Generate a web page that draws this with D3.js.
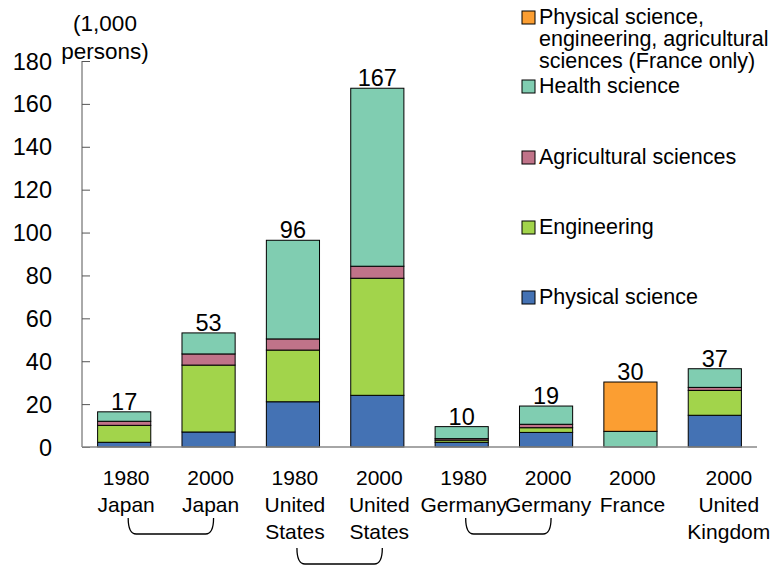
<!DOCTYPE html>
<html>
<head>
<meta charset="utf-8">
<script src="https://cdn.jsdelivr.net/npm/d3@7"></script>
<style>
body { margin: 0; background: #fff; }
text { font-family: "Liberation Sans", Arial, sans-serif; fill: #000; }
</style>
</head>
<body>
<svg width="773" height="565"></svg>
<script>
var svg = d3.select("svg");

// data (1,000 persons)
var categories = ["1980|Japan", "2000|Japan", "1980|United|States", "2000|United|States",
	"1980|Germany", "2000|Germany", "2000|France", "2000|United|Kingdom"];
var physical     = [2.2, 7.0, 21.1, 24.1, 2.2, 6.8, 0, 14.8];
var engineering  = [7.9, 31.2, 24.1, 54.6, 1.0, 2.2, 0, 11.6];
var agricultural = [1.9, 5.2, 5.2, 5.6, 0.7, 1.6, 0, 1.4];
var health       = [4.4, 9.8, 46.0, 83.0, 5.6, 8.5, 7.3, 8.7];
var franceOnly   = [0, 0, 0, 0, 0, 0, 23.0, 0];
var totals       = [17, 53, 96, 167, 10, 19, 30, 37];
var yTicks = [0, 20, 40, 60, 80, 100, 120, 140, 160, 180];

var series = [
	{key: "physical", name: ["Physical science"], values: physical, color: "#4472b4"},
	{key: "engineering", name: ["Engineering"], values: engineering, color: "#a2d44b"},
	{key: "agricultural", name: ["Agricultural sciences"], values: agricultural, color: "#c07389"},
	{key: "health", name: ["Health science"], values: health, color: "#80cdb1"},
	{key: "france", name: ["Physical science,", "engineering, agricultural", "sciences (France only)"], values: franceOnly, color: "#fb9e32"}
];

var table = categories.map(function(c, i) {
	var row = {cat: c};
	series.forEach(function(s) { row[s.key] = s.values[i]; });
	return row;
});

var x = d3.scaleBand()
	.domain(categories)
	.range([82, 757])
	.paddingInner(0.37)
	.paddingOuter(0.185);

var y = d3.scaleLinear()
	.domain([0, 180])
	.range([447, 61]);

var stack = d3.stack().keys(series.map(function(s) { return s.key; }));
var layers = stack(table);

// bars
svg.append("g")
	.selectAll("g")
	.data(layers)
	.enter().append("g")
	.attr("fill", function(d, i) { return series[i].color; })
	.selectAll("rect")
	.data(function(d) { return d.filter(function(p) { return p[1] - p[0] > 0; }); })
	.enter().append("rect")
	.attr("x", function(d) { return x(d.data.cat); })
	.attr("width", x.bandwidth())
	.attr("y", function(d) { return y(d[1]); })
	.attr("height", function(d) { return y(d[0]) - y(d[1]); })
	.attr("stroke", "#000")
	.attr("stroke-width", 1);

// y axis
var yAxis = svg.append("g")
	.attr("transform", "translate(82,0)")
	.call(d3.axisRight(y).tickValues(yTicks).tickSize(8).tickFormat(""));
yAxis.select(".domain").attr("stroke", "#555").attr("d", "M0," + y(180) + "V" + y(0));
yAxis.selectAll(".tick line").attr("stroke", "#555");

svg.append("g")
	.selectAll("text")
	.data(yTicks)
	.enter().append("text")
	.attr("x", 52)
	.attr("y", function(d) { return y(d) + 8.5; })
	.attr("text-anchor", "end")
	.style("font-size", "23.5px")
	.text(function(d) { return d; });

// x axis line
svg.append("line")
	.attr("x1", 82).attr("x2", 757)
	.attr("y1", y(0)).attr("y2", y(0))
	.attr("stroke", "#888")
	.attr("stroke-width", 1.5);

// axis title
svg.append("text")
	.attr("x", 105).attr("y", 31)
	.attr("text-anchor", "middle")
	.style("font-size", "22.5px")
	.text("(1,000");
svg.append("text")
	.attr("x", 105).attr("y", 59)
	.attr("text-anchor", "middle")
	.style("font-size", "22.5px")
	.text("persons)");

// totals above bars
svg.append("g")
	.selectAll("text")
	.data(categories)
	.enter().append("text")
	.attr("x", function(d) { return x(d) + x.bandwidth() / 2; })
	.attr("y", function(d, i) { return y(d3.sum(series, function(s) { return s.values[i]; })) - 2; })
	.attr("text-anchor", "middle")
	.style("font-size", "23.5px")
	.text(function(d, i) { return totals[i]; });

// category labels (last one sits a bit to the right, as in the original)
var catLabel = svg.append("g")
	.selectAll("text")
	.data(categories)
	.enter().append("text")
	.attr("text-anchor", "middle")
	.style("font-size", "21px");
catLabel.selectAll("tspan")
	.data(function(d, j) { return d.split("|").map(function(t) { return {t: t, c: d, j: j}; }); })
	.enter().append("tspan")
	.attr("x", function(d) { return x(d.c) + x.bandwidth() / 2 + (d.j === categories.length - 1 ? 14 : 2); })
	.attr("y", function(d, i) { return 485 + i * 27; })
	.text(function(d) { return d.t; });

// brackets pairing 1980 / 2000
var pairs = [[0, 1, 518], [2, 3, 548], [4, 5, 518]];
svg.append("g")
	.selectAll("path")
	.data(pairs)
	.enter().append("path")
	.attr("fill", "none")
	.attr("stroke", "#000")
	.attr("stroke-width", 1.3)
	.attr("d", function(p) {
		var x0 = x(categories[p[0]]) + x.bandwidth() / 2 + 4,
			x1 = x(categories[p[1]]) + x.bandwidth() / 2 + 5,
			yt = p[2], yb = p[2] + 16,
			path = d3.path();
		path.moveTo(x0, yt);
		path.quadraticCurveTo(x0, yb, x0 + 8, yb);
		path.lineTo(x1 - 8, yb);
		path.quadraticCurveTo(x1, yb, x1, yt);
		return path.toString();
	});

// legend
var legendY = [17, 86, 157, 227, 297];
var legend = svg.append("g")
	.selectAll("g")
	.data(series.slice().reverse())
	.enter().append("g")
	.attr("transform", function(d, i) { return "translate(522," + legendY[i] + ")"; });
legend.append("rect")
	.attr("x", 0).attr("y", -6)
	.attr("width", 13).attr("height", 13)
	.attr("fill", function(d) { return d.color; })
	.attr("stroke", "#000");
legend.append("text")
	.style("font-size", "21.5px")
	.selectAll("tspan")
	.data(function(d) { return d.name; })
	.enter().append("tspan")
	.attr("x", 17)
	.attr("y", function(d, i) { return 7 + i * 22; })
	.text(function(d) { return d; });
</script>
</body>
</html>
